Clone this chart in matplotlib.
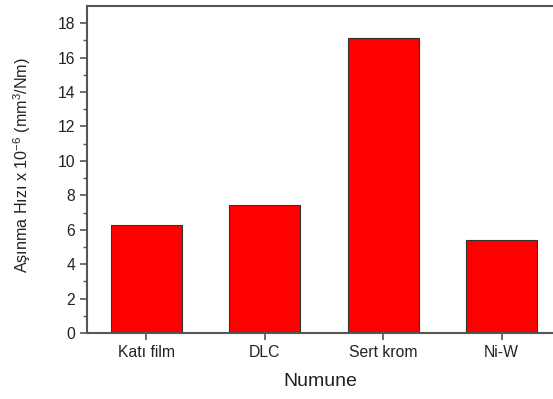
import matplotlib.pyplot as plt

plt.rcParams['font.family'] = ['Liberation Sans', 'DejaVu Sans']
plt.rcParams['mathtext.fontset'] = 'custom'
plt.rcParams['mathtext.rm'] = 'Liberation Sans'
plt.rcParams['mathtext.it'] = 'Liberation Sans:italic'
plt.rcParams['mathtext.default'] = 'regular'

# Wear rate per sample (x 10^-6 mm^3/Nm)
samples = ["Katı film", "DLC", "Sert krom", "Ni-W"]
wear_rate = [6.27, 7.43, 17.12, 5.40]

fig = plt.figure(figsize=(5.53, 3.99), dpi=100)
# axes runs past the right edge, as in the cropped original
x0, x1, y0, y1 = 87, 561, 333, 6
ax = fig.add_axes([x0/553, 1 - y0/399, (x1 - x0)/553, (y0 - y1)/399])

x = range(len(samples))
ax.bar(x, wear_rate, width=0.6, color="#ff0000", edgecolor="#333333", linewidth=0.8)

ax.set_xlim(-0.5, 3.5)
ax.set_ylim(0, 19)
ax.set_xticks(list(x))
ax.set_xticklabels(samples)
ax.set_yticks(range(0, 19, 2))
ax.set_yticks(range(1, 19, 2), minor=True)

spine_col = "#555555"
for side in ["left", "bottom", "top", "right"]:
    ax.spines[side].set_color(spine_col)
    ax.spines[side].set_linewidth(1.5)
ax.tick_params(axis="both", which="major", direction="out", length=5, width=1.2,
               color=spine_col, labelsize=11.3, labelcolor="#222222")
ax.tick_params(axis="y", which="minor", direction="out", length=3, width=1.0, color=spine_col)
ax.tick_params(axis="x", which="minor", bottom=False)

ax.set_xlabel("Numune", fontsize=14, color="#222222", va="center")
ax.set_ylabel("Aşınma Hızı x 10$^{-6}$ (mm$^{3}$/Nm)", fontsize=11.6, color="#222222", va="center")
ax.xaxis.set_label_coords((320 - x0)/(x1 - x0), (y0 - 382)/(y0 - y1))
ax.yaxis.set_label_coords((22 - x0)/(x1 - x0), (y0 - 165)/(y0 - y1))

fig.savefig("out.png", dpi=100)
